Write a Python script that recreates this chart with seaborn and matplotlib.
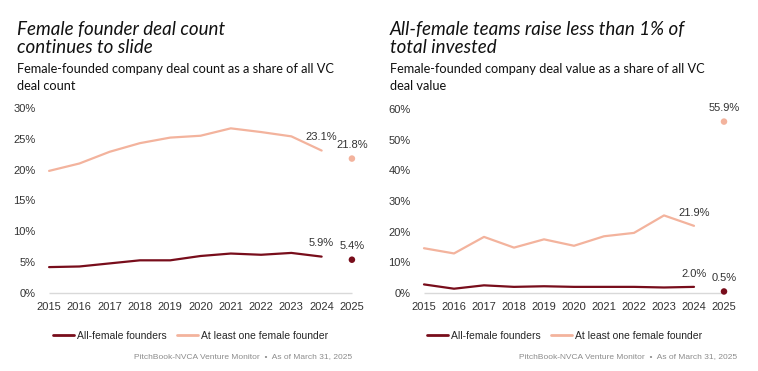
import pandas as pd
import numpy as np
import matplotlib.pyplot as plt
import seaborn as sns
from matplotlib.lines import Line2D

years = [2015, 2016, 2017, 2018, 2019, 2020, 2021, 2022, 2023, 2024]
last_year = 2025

# deal count share (%)
count_all_female = [4.2, 4.3, 4.8, 5.3, 5.3, 6.0, 6.4, 6.2, 6.5, 5.9]
count_one_female = [19.8, 21.0, 22.9, 24.3, 25.2, 25.5, 26.7, 26.1, 25.4, 23.1]
count_2025 = [5.4, 21.8]

# deal value share (%)
value_all_female = [2.8, 1.4, 2.5, 2.0, 2.2, 2.0, 2.0, 2.0, 1.8, 2.0]
value_one_female = [14.6, 12.9, 18.3, 14.8, 17.5, 15.4, 18.5, 19.6, 25.3, 21.9]
value_2025 = [0.5, 55.9]

series = ['All-female founders', 'At least one female founder']
dark = '#780d1b'
light = '#f3b39d'
palette = {series[0]: dark, series[1]: light}

sns.set_theme(style="white")
plt.rcParams['font.family'] = ['Liberation Sans', 'DejaVu Sans']

fig = plt.figure(figsize=(7.58, 3.71), dpi=100)
W, H = 758, 371

def px_axes(left, top, right, bottom):
    return fig.add_axes([left / W, 1 - bottom / H, (right - left) / W, (bottom - top) / H])

def draw(ax, a, b, last, ylim, yticks, title, subtitle, tx):
    df = pd.DataFrame({'year': years * 2, 'share': a + b,
                       'series': [series[0]] * len(years) + [series[1]] * len(years)})
    df25 = pd.DataFrame({'year': [last_year] * 2, 'share': last, 'series': series})
    ax.hlines(0, years[0], last_year, color='#d9d9d9', lw=1, zorder=0)
    sns.lineplot(data=df, x='year', y='share', hue='series', palette=palette,
                 lw=1.6, legend=False, ax=ax)
    sns.scatterplot(data=df25, x='year', y='share', hue='series', palette=palette,
                    s=22, linewidth=0, legend=False, ax=ax)
    for v in [a[-1], b[-1]]:
        ax.annotate(f'{v:.1f}%', (years[-1], v), xytext=(0, 6), textcoords='offset points',
                    ha='center', va='bottom', fontsize=8, color='#333333')
    for v in last:
        ax.annotate(f'{v:.1f}%', (last_year, v), xytext=(0, 6), textcoords='offset points',
                    ha='center', va='bottom', fontsize=8, color='#333333')
    ax.set_xlim(2014.7, 2025.3)
    ax.set_ylim(*ylim)
    ax.set_xticks(years + [last_year])
    ax.set_yticks(yticks)
    ax.set_yticklabels([f'{t}%' for t in yticks])
    ax.tick_params(axis='both', labelsize=8, colors='#333333', length=0, pad=3)
    ax.set_xlabel('')
    ax.set_ylabel('')
    sns.despine(ax=ax, left=True, bottom=True)
    fig.text(tx / W, 1 - 21 / H, title, fontsize=13.5, style='italic', family=['Lato', 'DejaVu Sans'],
             va='top', ha='left', color='#111111', linespacing=1.05)
    fig.text(tx / W, 1 - 63 / H, subtitle, fontsize=9.2, family=['Lato', 'DejaVu Sans'],
             va='top', ha='left', color='#111111', linespacing=1.45)
    handles = [Line2D([0], [0], color=dark, lw=2), Line2D([0], [0], color=light, lw=2)]
    ax.legend(handles, series, loc='upper center', bbox_to_anchor=(0.47, -0.12), ncol=2,
              frameon=False, fontsize=7.5, handlelength=2.0, handletextpad=0.3,
              columnspacing=1.0)

ax1 = px_axes(40, 103, 361, 298)
draw(ax1, count_all_female, count_one_female, count_2025, (-0.81, 30.81),
     [0, 5, 10, 15, 20, 25, 30],
     'Female founder deal count\ncontinues to slide',
     'Female-founded company deal count as a share of all VC\ndeal count', 17)

ax2 = px_axes(415, 103, 733, 298)
draw(ax2, value_all_female, value_one_female, value_2025, (-1.63, 61.96),
     [0, 10, 20, 30, 40, 50, 60],
     'All-female teams raise less than 1% of\ntotal invested',
     'Female-founded company deal value as a share of all VC\ndeal value', 390)

note = 'PitchBook-NVCA Venture Monitor  \u2022  As of March 31, 2025'
fig.text(352 / W, 1 - 357 / H, note, fontsize=6, color='#8c8c8c', ha='right', va='center')
fig.text(737 / W, 1 - 357 / H, note, fontsize=6, color='#8c8c8c', ha='right', va='center')

fig.savefig('out.png', dpi=100)
